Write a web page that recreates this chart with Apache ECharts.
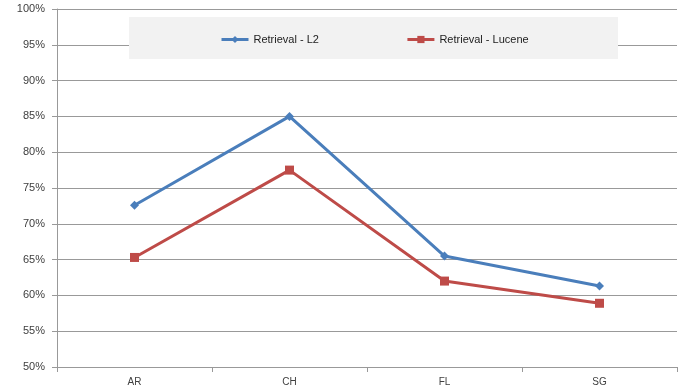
<!DOCTYPE html>
<html>
<head>
<meta charset="utf-8">
<script src="https://cdn.jsdelivr.net/npm/echarts@6/dist/echarts.min.js"></script>
<style>
  html, body { margin: 0; padding: 0; background: #fff; }
  #chart { width: 682px; height: 389px; }
</style>
</head>
<body>
<div id="chart"></div>
<script>
// Categories and retrieval accuracy (%) per dataset
const categories = ['AR', 'CH', 'FL', 'SG'];
const seriesL2 = [72.6, 85.0, 65.5, 61.3];
const seriesLucene = [65.3, 77.5, 62.0, 58.9];
const yTicks = [50, 55, 60, 65, 70, 75, 80, 85, 90, 95, 100];
const nameL2 = 'Retrieval - L2';
const nameLucene = 'Retrieval - Lucene';

const textColor = '#404040';
const gridColor = '#999999';
const font = 'Liberation Sans';
const panelLeft = 129, panelRight = 618;
const panelLevel = 95; // grid line hidden by the legend panel

const chart = echarts.init(document.getElementById('chart'), null, { renderer: 'canvas' });

// One colour per grid line; the line under the legend panel is left out
const splitColors = yTicks.map(v => v === panelLevel ? 'rgba(0,0,0,0)' : gridColor);

chart.setOption({
  animation: false,
  backgroundColor: '#ffffff',
  textStyle: { fontFamily: font, color: textColor },
  grid: { left: 57, right: 5, top: 9, bottom: 22, containLabel: false },
  legend: {
    data: [nameL2, nameLucene],
    left: panelLeft, top: 17,
    padding: [17, 0, 0, 91],
    itemWidth: 27, itemHeight: 9, itemGap: 87,
    lineStyle: { width: 3 },
    textStyle: { fontFamily: font, fontSize: 11, color: '#222' },
    z: 10
  },
  xAxis: {
    type: 'category',
    data: categories,
    boundaryGap: true,
    axisLine: { lineStyle: { color: gridColor, width: 1 } },
    axisTick: { show: true, alignWithLabel: false, length: 5, lineStyle: { color: gridColor } },
    axisLabel: { color: textColor, fontSize: 10, margin: 10, fontFamily: font },
    splitLine: { show: false }
  },
  yAxis: {
    type: 'value',
    min: yTicks[0], max: yTicks[yTicks.length - 1], interval: 5,
    axisLine: { show: true, lineStyle: { color: gridColor, width: 1 } },
    axisTick: { show: true, length: 5, lineStyle: { color: gridColor } },
    axisLabel: { color: textColor, fontSize: 11, margin: 12, fontFamily: font, formatter: v => v + '%' },
    splitLine: { show: true, lineStyle: { color: splitColors, width: 1 } }
  },
  series: [
    {
      name: nameL2,
      type: 'line',
      data: seriesL2,
      symbol: 'diamond',
      symbolSize: 9,
      lineStyle: { color: '#4a7ebb', width: 3 },
      itemStyle: { color: '#4a7ebb' },
      // Light grey legend panel
      markArea: {
        silent: true,
        itemStyle: { color: '#f2f2f2', opacity: 1 },
        data: [[{ x: panelLeft, y: 17 }, { x: panelRight, y: 59 }]]
      },
      z: 3
    },
    {
      name: nameLucene,
      type: 'line',
      data: seriesLucene,
      symbol: 'rect',
      symbolSize: 9,
      lineStyle: { color: '#be4b48', width: 3 },
      itemStyle: { color: '#be4b48' },
      z: 3
    }
  ]
});

// Draw the visible ends of the grid line on either side of the legend panel
const gridRect = chart.getModel().getComponent('grid').coordinateSystem.getRect();
const yLine = Math.round(chart.convertToPixel({ yAxisIndex: 0 }, panelLevel)) + 0.5;
const segStyle = { stroke: gridColor, lineWidth: 1 };
chart.setOption({
  graphic: [
    { type: 'line', silent: true, shape: { x1: gridRect.x, y1: yLine, x2: panelLeft, y2: yLine }, style: segStyle },
    { type: 'line', silent: true, shape: { x1: panelRight, y1: yLine, x2: gridRect.x + gridRect.width, y2: yLine }, style: segStyle }
  ]
});
</script>
</body>
</html>
